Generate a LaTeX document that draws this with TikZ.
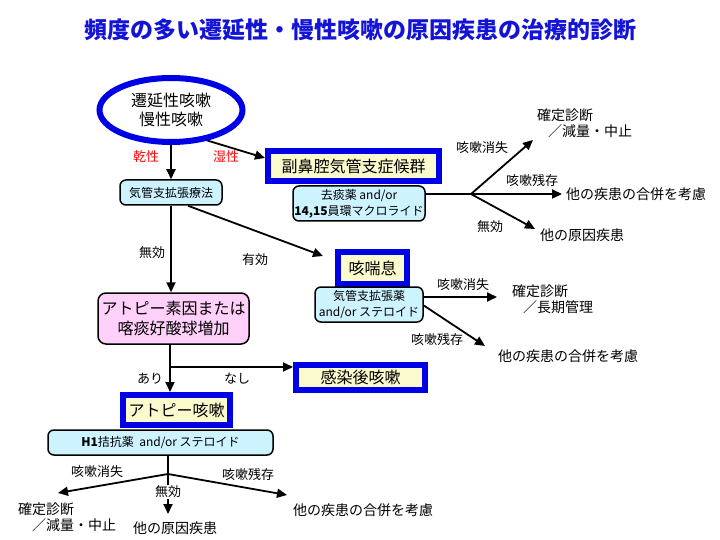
\documentclass[tikz,border=0pt]{standalone}
\usepackage{fontspec}
\setmainfont{Noto Sans CJK JP}
\usepackage{xcolor}
\usetikzlibrary{arrows.meta,shapes.geometric}
\definecolor{bluebd}{RGB}{0,0,230}
\definecolor{cream}{RGB}{250,250,205}
\definecolor{lcyan}{RGB}{205,243,255}
\definecolor{lpink}{RGB}{255,208,250}
\definecolor{titleblue}{RGB}{20,20,215}
\newcommand{\pxfont}[2]{\fontsize{#1}{#2}\selectfont}

\begin{document}
\begin{tikzpicture}[x=1pt,y=-1pt,
  bluebox/.style={draw=bluebd,line width=6pt,fill=cream,inner sep=0pt,font=\pxfont{16}{19}},
  cyanbox/.style={draw,line width=1.5pt,rounded corners=6pt,fill=lcyan,inner sep=0pt,align=center,font=\pxfont{12}{16}},
  lbl/.style={font=\pxfont{13}{15},inner sep=1pt},
  res/.style={font=\pxfont{14}{16},inner sep=0pt,align=left,anchor=west},
  arr/.style={-{Triangle[length=10pt,width=9pt]},line width=1.8pt},
  ln/.style={line width=1.8pt}]
\useasboundingbox (0,0) rectangle (720,540);
\node[font=\pxfont{23}{26}\bfseries,text=titleblue] (title) at (360,30) {頻度の多い遷延性・慢性咳嗽の原因疾患の治療的診断};

\node[ellipse,draw=bluebd,line width=6pt,minimum width=143pt,minimum height=64pt,inner sep=0pt,align=center,font=\pxfont{16}{19}] (start) at (171,110) {遷延性咳嗽\\慢性咳嗽};
\node[cyanbox,minimum width=102pt,minimum height=25pt] (dilate) at (171,192.5) {気管支拡張療法};
\node[bluebox,minimum width=171pt,minimum height=30pt] (sinus) at (353.5,166) {副鼻腔気管支症候群};
\node[cyanbox,minimum width=132pt,minimum height=35pt] (expect) at (359,203.5) {去痰薬 and/or\\\textbf{14,15}員環マクロライド};
\node[lbl,text=red] (dry) at (146,157) {乾性};
\node[lbl,text=red] (wet) at (226,157) {湿性};
\draw[arr] (start) -- (dilate);
\draw[arr] (start.-40) -- ([yshift=8pt]sinus.west);

\coordinate (sb) at (471,194);
\coordinate (sbup) at (533,140);
\coordinate (sbmid) at (562,194);
\coordinate (sbdown) at (535,229);
\draw[ln] (expect.east |- sb) -- (sb);
\draw[arr] (sb) -- (sbup);
\draw[arr] (sb) -- (sbmid);
\draw[arr] (sb) -- (sbdown);
\node[lbl] (sbgone) at (482,148) {咳嗽消失};
\node[lbl] (sbstay) at (532,181) {咳嗽残存};
\node[lbl] (sbnone) at (490,227) {無効};
\node[res] (sbfix) at (537,123.5) {確定診断\\\hspace*{11pt}／減量・中止};
\node[res] (sbother) at (566,194) {他の疾患の合併を考慮};
\node[res] (sbcause) at (540,235) {他の原因疾患};

\node[bluebox,minimum width=69pt,minimum height=32pt] (asthma) at (372.5,268) {咳喘息};
\node[cyanbox,minimum width=108pt,minimum height=35pt] (asmed) at (369,304.5) {気管支拡張薬\\and/or ステロイド};
\coordinate (astip) at (323,256);
\draw[arr] ([xshift=17pt]dilate.south) -- (astip);
\node[lbl] (yes) at (255,260) {有効};
\coordinate (amid) at (497,297);
\coordinate (adown) at (485,346);
\draw[arr] (asmed.east |- amid) -- (amid);
\draw[arr] ([yshift=-1pt]asmed.east) -- (adown);
\node[lbl] (agone) at (463,285) {咳嗽消失};
\node[lbl] (astay) at (437,340) {咳嗽残存};
\node[res] (afix) at (512,299) {確定診断\\\hspace*{11pt}／長期管理};
\node[res] (aother) at (498,356) {他の疾患の合併を考慮};

\node[draw,line width=1.5pt,rounded corners=8pt,fill=lpink,inner sep=0pt,minimum width=151pt,minimum height=51pt,align=center,font=\pxfont{16}{20}] (atopy) at (173.5,318.5) {アトピー素因または\\喀痰好酸球増加};
\draw[arr] (dilate) -- (dilate |- atopy.north);
\node[lbl] (no) at (152,253) {無効};

\node[bluebox,minimum width=129pt,minimum height=25pt] (postinf) at (360.5,377.5) {感染後咳嗽};
\node[bluebox,minimum width=107pt,minimum height=30pt] (atcough) at (176.5,410) {アトピー咳嗽};
\node[cyanbox,minimum width=225pt,minimum height=25pt] (hone) at (160.5,442.5) {\textbf{H1}拮抗薬\ \ and/or ステロイド};
\coordinate (j) at (170,367);
\draw[ln] (j |- atopy.south) -- (j);
\draw[arr] (j) -- (j -| postinf.west);
\draw[arr] (j) -- (j |- atcough.north);
\node[lbl] (ari) at (150,379) {あり};
\node[lbl] (nashi) at (237,379) {なし};

\coordinate (hb) at (168,474);
\coordinate (hleft) at (58,493);
\coordinate (hdown) at (168,514);
\coordinate (hright) at (287,495);
\draw[ln] (hb |- hone.south) -- (hb);
\draw[arr] (hb) -- (hleft);
\draw[arr] (hb) -- (hdown);
\draw[arr] (hb) -- (hright);
\node[lbl] (hgone) at (97,472) {咳嗽消失};
\node[lbl,fill=white] (hnone) at (168,492) {無効};
\node[lbl] (hstay) at (248,475) {咳嗽残存};
\node[res] (hfix) at (18,517.5) {確定診断\\\hspace*{14pt}／減量・中止};
\node[res] (hcause) at (133,528) {他の原因疾患};
\node[res] (hother) at (293,510) {他の疾患の合併を考慮};
\end{tikzpicture}
\end{document}
